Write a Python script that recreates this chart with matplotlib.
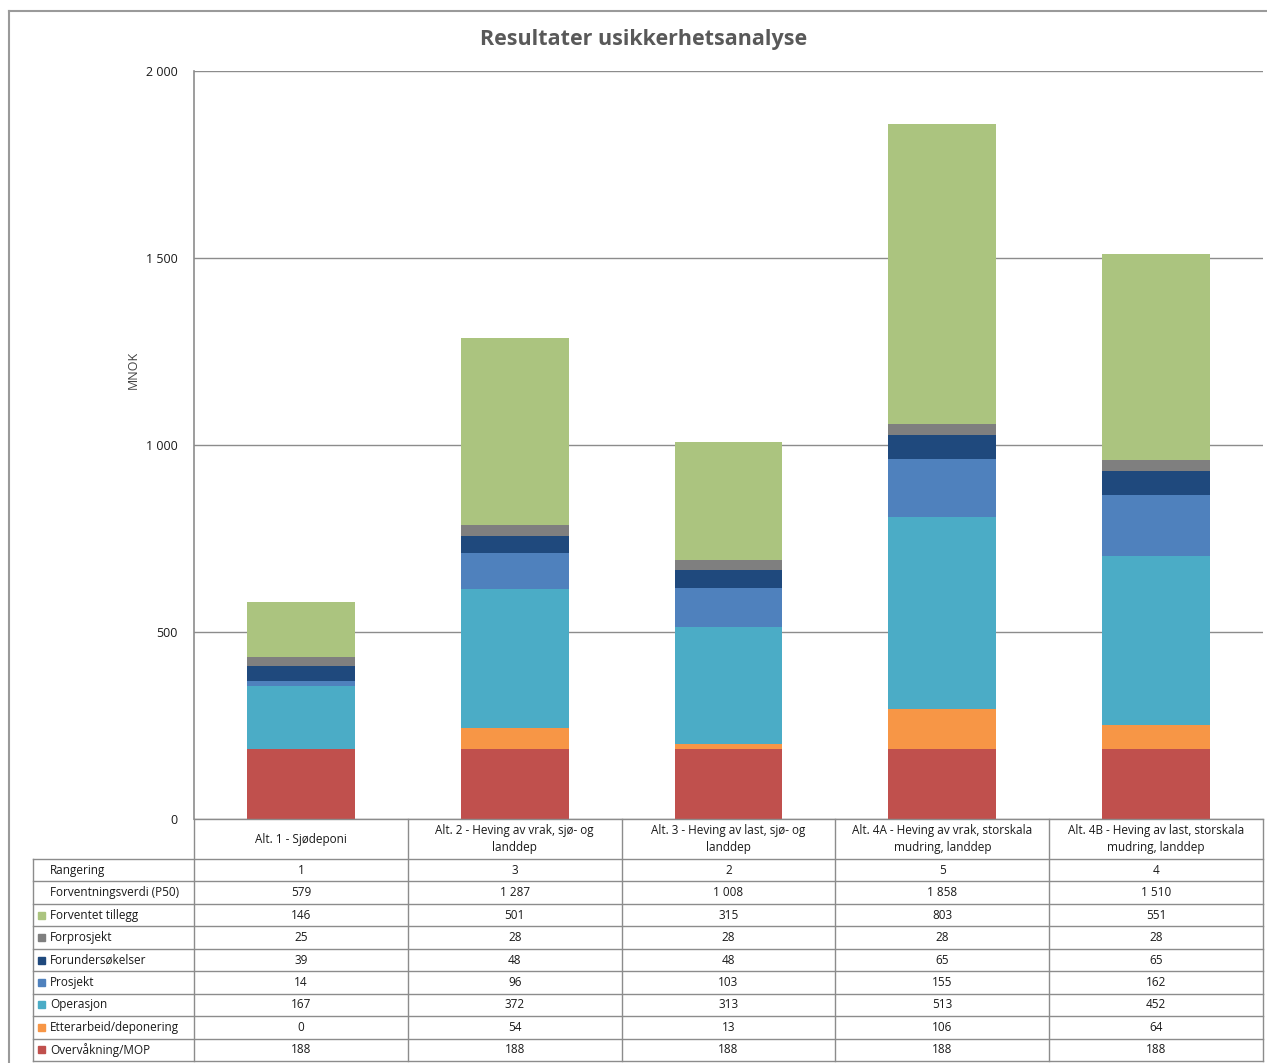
import matplotlib
matplotlib.use("Agg")
import matplotlib.pyplot as plt
from matplotlib.lines import Line2D
from matplotlib.patches import Rectangle
import numpy as np

plt.rcParams['font.family'] = ['Open Sans', 'DejaVu Sans']

categories = ["Alt. 1 - Sjødeponi",
              "Alt. 2 - Heving av vrak, sjø- og\nlanddep",
              "Alt. 3 - Heving av last, sjø- og\nlanddep",
              "Alt. 4A - Heving av vrak, storskala\nmudring, landdep",
              "Alt. 4B - Heving av last, storskala\nmudring, landdep"]
rangering = [1, 3, 2, 5, 4]
forventningsverdi = [579, 1287, 1008, 1858, 1510]
overvakning = [188, 188, 188, 188, 188]
etterarbeid = [0, 54, 13, 106, 64]
operasjon = [167, 372, 313, 513, 452]
prosjekt = [14, 96, 103, 155, 162]
forundersokelser = [39, 48, 48, 65, 65]
forprosjekt = [25, 28, 28, 28, 28]
forventet_tillegg = [146, 501, 315, 803, 551]
yticks = [0, 500, 1000, 1500, 2000]

# stacking order bottom->top
series = [("Overvåkning/MOP", overvakning, "#C0504D"),
          ("Etterarbeid/deponering", etterarbeid, "#F79646"),
          ("Operasjon", operasjon, "#4BACC6"),
          ("Prosjekt", prosjekt, "#4F81BD"),
          ("Forundersøkelser", forundersokelser, "#1F497D"),
          ("Forprosjekt", forprosjekt, "#7F7F7F"),
          ("Forventet tillegg", forventet_tillegg, "#ABC47F")]

W, H = 1267, 1063
fig = plt.figure(figsize=(W/100, H/100), dpi=100)

def fx(px): return px / W
def fy(py): return 1 - py / H

L, R, T, B = 194, 1263, 71, 819
ax = fig.add_axes([fx(L), fy(B), fx(R) - fx(L), fy(T) - fy(B)])
x = np.arange(len(categories))
bottom = np.zeros(len(categories))
for name, vals, col in series:
    ax.bar(x, vals, width=0.505, bottom=bottom, color=col, zorder=3)
    bottom += np.array(vals)
ax.set_xlim(-0.5, len(categories) - 0.5)
ax.set_ylim(0, 2000)
ax.set_yticks(yticks)
ax.set_yticklabels([f"{v:,}".replace(",", " ") for v in yticks], fontsize=9, color="#1A1A1A")
ax.tick_params(axis='y', length=0, pad=12)
ax.set_xticks([])
ax.grid(axis='y', color="#8C8C8C", linewidth=1.0, zorder=0)
for s in ['top', 'right', 'bottom']:
    ax.spines[s].set_visible(False)
ax.spines['left'].set_color("#8C8C8C")
ax.spines['left'].set_linewidth(1.2)
ax.set_ylabel("MNOK", fontsize=9, color="#404040")
ax.yaxis.set_label_coords(-0.051, 0.60)

fig.text(fx(644), fy(39), "Resultater usikkerhetsanalyse", ha='center', va='center',
         fontsize=15.5, fontweight='bold', color="#595959")

# outer frame
lc = "#9A9A9A"
fig.add_artist(Line2D([fx(9), fx(9)], [fy(11), fy(1063)], color=lc, lw=1.5))
fig.add_artist(Line2D([fx(9), 1], [fy(11), fy(11)], color=lc, lw=1.5))

# data table
tc = "#8C8C8C"
col_edges = [L + (R - L) * i / len(categories) for i in range(len(categories) + 1)]
header_top, header_bot = 819, 859
rows = [("Rangering", [str(v) for v in rangering], None),
        ("Forventningsverdi (P50)", [f"{v:,}".replace(",", " ") for v in forventningsverdi], None)]
for name, vals, col in reversed(series):
    rows.append((name, [str(v) for v in vals], col))
nrows = len(rows)
tbot = 1061
rh = (tbot - header_bot) / nrows
label_left = 33

# header lines
fig.add_artist(Line2D([fx(L), fx(R)], [fy(header_top), fy(header_top)], color=tc, lw=1))
for ce in col_edges:
    fig.add_artist(Line2D([fx(ce), fx(ce)], [fy(header_top), fy(tbot)], color=tc, lw=1))
for i, cat in enumerate(categories):
    cx = (col_edges[i] + col_edges[i + 1]) / 2
    fig.text(fx(cx), fy((header_top + header_bot) / 2), cat, ha='center', va='center',
             fontsize=8.5, color="#1A1A1A", linespacing=1.35)
# row lines
for r in range(nrows + 1):
    yy = header_bot + r * rh
    fig.add_artist(Line2D([fx(label_left), fx(R)], [fy(yy), fy(yy)], color=tc, lw=1))
fig.add_artist(Line2D([fx(label_left), fx(label_left)], [fy(header_bot), fy(tbot)], color=tc, lw=1))
for r, (name, vals, col) in enumerate(rows):
    yc = header_bot + (r + 0.5) * rh
    if col is not None:
        fig.add_artist(Rectangle((fx(38), fy(yc + 3.5)), fx(7), 7 / H, color=col,
                                 transform=fig.transFigure))
    fig.text(fx(50), fy(yc), name, ha='left', va='center', fontsize=8.5, color="#1A1A1A")
    for i, v in enumerate(vals):
        cx = (col_edges[i] + col_edges[i + 1]) / 2
        fig.text(fx(cx), fy(yc), v, ha='center', va='center', fontsize=8.5, color="#1A1A1A")

fig.savefig("out.png", dpi=100)
